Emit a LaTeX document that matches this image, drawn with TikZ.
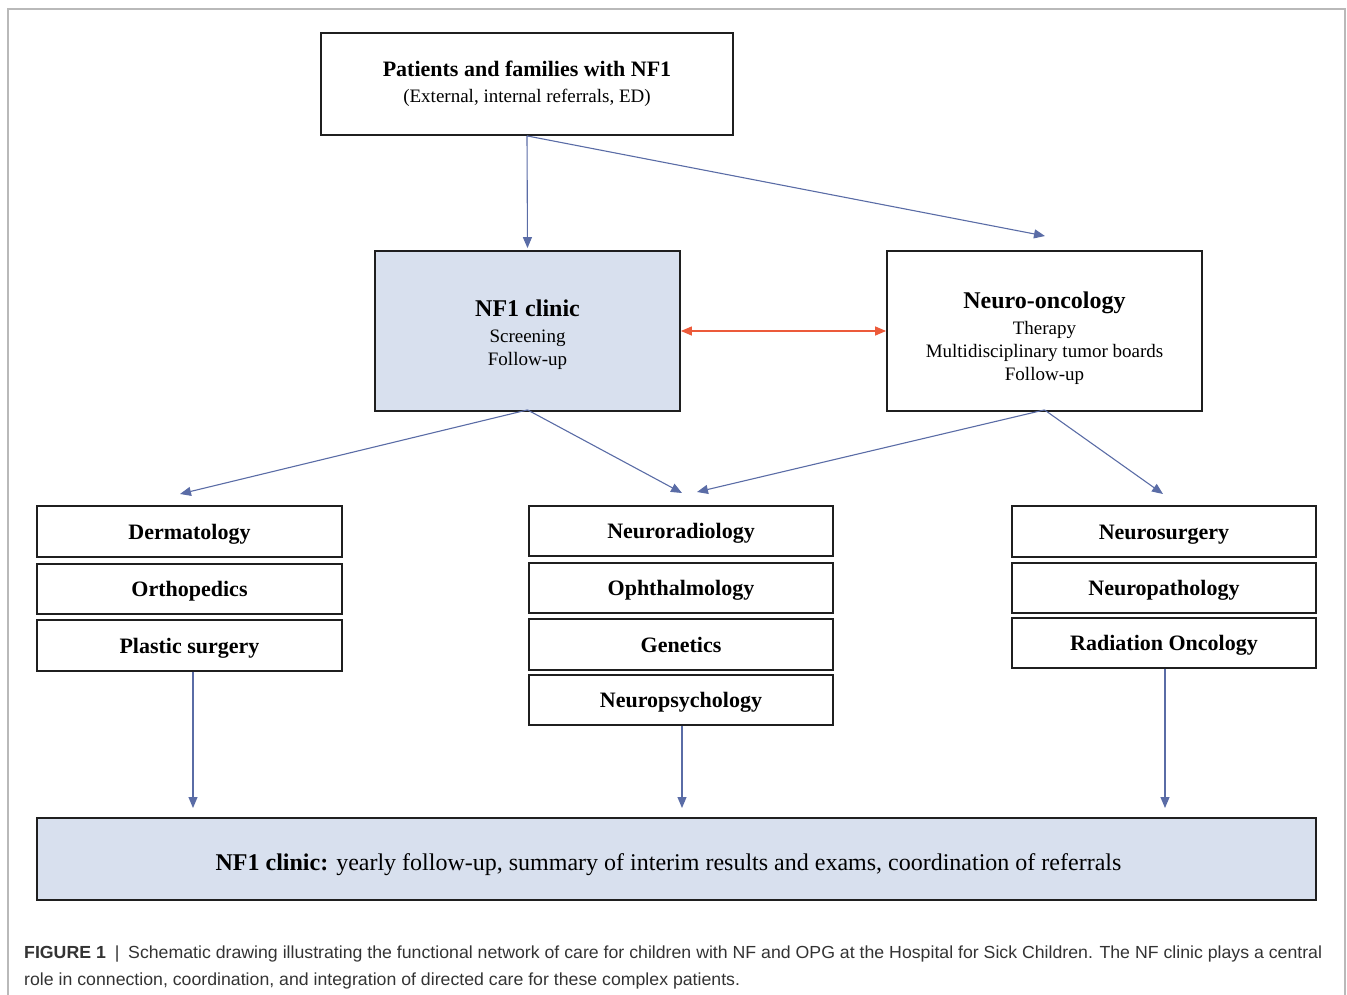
\documentclass[tikz,border=0pt]{standalone}
\usepackage{fontspec}
\setmainfont{Liberation Serif}
\setsansfont{Liberation Sans}
\usetikzlibrary{arrows.meta}
\definecolor{boxblue}{HTML}{D8E0EE}
\definecolor{arrblue}{HTML}{5A6CA6}
\definecolor{arrred}{HTML}{EC5A3A}
\definecolor{captxt}{HTML}{333333}
\newsavebox\capboxA
\newsavebox\capboxB
\newcommand{\capfnt}{\sffamily\fontsize{17.5}{20}\selectfont\color{captxt}}
\newcommand{\hdfont}{\fontsize{24}{28}\selectfont\bfseries}
\newcommand{\bdfont}{\fontsize{19}{23}\selectfont}
\newcommand{\lowtab}[2]{\raisebox{-#1}[\height][\depth]{\begin{tabular}{@{}c@{}}#2\end{tabular}}}
\begin{document}
\sbox\capboxA{\capfnt\textbf{FIGURE 1}\enspace|\enspace Schematic drawing illustrating the functional network of care for children with NF and OPG at the Hospital for Sick Children. The NF clinic plays a central}%
\sbox\capboxB{\capfnt role in connection, coordination, and integration of directed care for these complex patients.}%
\pgfmathsetmacro\capscale{1298/\wd\capboxA}%
\begin{tikzpicture}[x=1pt,y=-1pt,
  box/.style={draw=black!88, line width=1.8pt, inner sep=0pt, align=center},
  dept/.style={box, minimum height=50pt, text height=15pt, text depth=0pt, font=\fontsize{22}{26}\selectfont\bfseries},
  arr/.style={draw=arrblue, line width=1.1pt, -{Triangle[length=11pt,width=9pt]}},
  redarr/.style={draw=arrred, line width=1.3pt, {Triangle[length=11pt,width=9pt]}-{Triangle[length=11pt,width=9pt]}}]
\useasboundingbox (0,0) rectangle (1347,994);
% outer frame
\draw[gray!55, line width=1.6pt] (8,1010) -- (8,9) -- (1345,9) -- (1345,1010);

% top box
\node[box, minimum width=412pt, minimum height=102pt, font=\fontsize{19}{24}\selectfont] (top) at (527,84)
  {{\fontsize{22}{26}\selectfont\bfseries Patients and families with NF1}\\[2pt]
   (External, internal referrals, ED)};

% NF1 clinic
\node[box, fill=boxblue, minimum width=305pt, minimum height=160pt, font=\bdfont] (nf1) at (527.5,331)
  {\lowtab{5pt}{{\hdfont NF1 clinic}\\[3pt] Screening\\ Follow-up}};

% Neuro-oncology
\node[box, minimum width=315pt, minimum height=160pt, font=\bdfont] (neuro) at (1044.5,331)
  {\lowtab{9pt}{{\hdfont Neuro-oncology}\\[3pt] Therapy\\ Multidisciplinary tumor boards\\ Follow-up}};

% left column
\node[dept, minimum width=305pt, minimum height=51pt] (derm) at (189.5,531.5) {Dermatology};
\node[dept, minimum width=305pt] (ortho) at (189.5,589) {Orthopedics};
\node[dept, minimum width=305pt, minimum height=51pt] (plast) at (189.5,645.5) {Plastic surgery};

% middle column
\node[dept, minimum width=304pt] (nrad) at (681,531) {Neuroradiology};
\node[dept, minimum width=304pt] (ophth) at (681,588) {Ophthalmology};
\node[dept, minimum width=304pt, minimum height=51pt] (gen) at (681,644.5) {Genetics};
\node[dept, minimum width=304pt] (npsy) at (681,700) {Neuropsychology};

% right column
\node[dept, minimum width=304pt, minimum height=51pt] (nsurg) at (1164,531.5) {Neurosurgery};
\node[dept, minimum width=304pt] (npath) at (1164,588) {Neuropathology};
\node[dept, minimum width=304pt] (radonc) at (1164,643) {Radiation Oncology};

% bottom box
\node[box, fill=boxblue, minimum width=1279pt, minimum height=82pt, text height=22pt, text depth=0pt, font=\fontsize{24}{28}\selectfont] (bottom) at (676.5,859)
  {\textbf{NF1 clinic:} yearly follow-up, summary of interim results and exams, coordination of referrals\hspace*{16pt}};

% free arrow ends
\coordinate (tNO) at (1045,236);
\coordinate (lA) at (180,494);
\coordinate (mA) at (682,493);
\coordinate (mB) at (697,492);
\coordinate (rA) at (1163,494);
\coordinate (bL) at (193,808);
\coordinate (bM) at (682,808);
\coordinate (bR) at (1165,808);

% connectors
\draw[arr, shorten >=2pt] (top.south) -- (nf1.north);
\draw[arr] (top.south) -- (tNO);
\draw[redarr] (nf1.east) -- (neuro.west);
\draw[arr] ([yshift=2pt]nf1.south) -- (lA);
\draw[arr] ([yshift=2pt]nf1.south) -- (mA);
\draw[arr] ([yshift=2pt]neuro.south) -- (mB);
\draw[arr] ([yshift=2pt]neuro.south) -- (rA);
\draw[arr] (plast.south -| bL) -- (bL);
\draw[arr] (npsy.south -| bM) -- (bM);
\draw[arr] (radonc.south -| bR) -- (bR);

% caption
\node[anchor=base west, inner sep=0pt] (capA) at (24,958) {\scalebox{\capscale}[1]{\usebox\capboxA}};
\node[anchor=base west, inner sep=0pt] (capB) at (24,985) {\scalebox{\capscale}[1]{\usebox\capboxB}};
\end{tikzpicture}
\end{document}
